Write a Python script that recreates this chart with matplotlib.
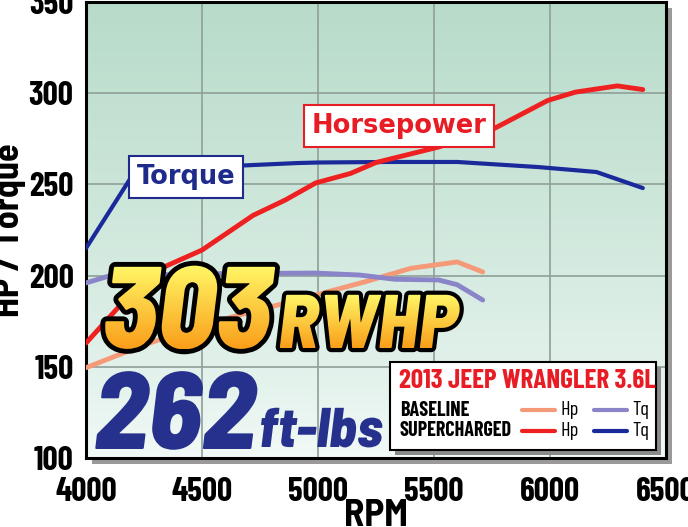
import numpy as np
import matplotlib.pyplot as plt
from matplotlib import font_manager
from matplotlib.textpath import TextPath
from matplotlib.patches import PathPatch, Rectangle

# dyno data
rpm_sc = [4000, 4270, 4500, 4720, 4860, 4990, 5140, 5250, 5520, 5750, 5990, 6110, 6290, 6400]
hp_sc = [163, 201, 214, 233, 241.5, 250.8, 256, 262, 270.5, 280, 296, 300.6, 304, 302]

rpm_tq_sc = [4000, 4200, 4500, 4700, 4910, 5000, 5300, 5600, 5950, 6200, 6400]
tq_sc = [215, 255, 259.5, 260.5, 261.7, 262, 262.3, 262.3, 259.5, 256.8, 248]

rpm_base = [4000, 4250, 4530, 4950, 5200, 5400, 5600, 5710]
hp_base = [149.5, 162, 174, 188, 196.5, 204, 207.5, 202]

rpm_tq_base = [4000, 4100, 4500, 4990, 5180, 5330, 5520, 5600, 5710]
tq_base = [196, 199.8, 201, 201.4, 200.3, 198, 197.6, 195, 186.6]

x_ticks = [4000, 4500, 5000, 5500, 6000, 6500]
y_ticks = [100, 150, 200, 250, 300, 350]

def pick(names):
    for n in names:
        try:
            font_manager.findfont(n, fallback_to_default=False)
            return n
        except Exception:
            pass
    return 'DejaVu Sans'

FONT = pick(['Barlow Condensed', 'Roboto Condensed', 'Liberation Sans Narrow', 'DejaVu Sans'])
FONT_SEMI = pick(['Barlow Semi Condensed', 'Roboto Condensed', 'DejaVu Sans'])
plt.rcParams['font.family'] = [FONT, 'DejaVu Sans']

W, H = 688, 527
fig = plt.figure(figsize=(W / 100, H / 100), dpi=100)
fig.patch.set_facecolor('white')

L, R, T, B = 86, 666, 2, 458
ax = fig.add_axes([L / W, 1 - B / H, (R - L) / W, (B - T) / H])

# shadow behind the plot frame
shadow = fig.add_axes([(L + 6) / W, 1 - (B + 6) / H, (R - L) / W, (B - T) / H], zorder=-1)
shadow.set_facecolor('#9a9a9a')
shadow.set_xticks([]); shadow.set_yticks([])
for s in shadow.spines.values():
    s.set_visible(False)

ax.set_xlim(4000, 6500)
ax.set_ylim(100, 350)

# green to pale background gradient
grad = np.linspace(1, 0, 256).reshape(-1, 1)
top = np.array([0.72, 0.86, 0.79])
bot = np.array([0.95, 0.98, 0.97])
img = bot + (top - bot) * grad[..., None] ** 0.8
ax.imshow(img, extent=[4000, 6500, 100, 350], aspect='auto', zorder=0)

ax.set_xticks(x_ticks)
ax.set_yticks(y_ticks)
ax.grid(color='#8f9f98', linewidth=1.2, zorder=1)
ax.tick_params(length=0, labelsize=24)
ax.tick_params(axis='x', pad=14)
ax.tick_params(axis='y', pad=9)
for lbl in ax.get_xticklabels() + ax.get_yticklabels():
    lbl.set_fontweight('bold')
for s in ax.spines.values():
    s.set_linewidth(2.2)
    s.set_color('black')
ax.set_xlabel('RPM', fontsize=27, fontweight='bold', family=[FONT_SEMI, 'DejaVu Sans'], labelpad=-6)
ax.set_ylabel('HP / Torque', fontsize=26, fontweight='bold', family=[FONT_SEMI, 'DejaVu Sans'])
ax.yaxis.set_label_coords(-0.103, 0.5)

ax.plot(rpm_base, hp_base, color='#f49a78', lw=3.5, zorder=3, solid_capstyle='round')
ax.plot(rpm_tq_base, tq_base, color='#8a84c8', lw=3.5, zorder=3, solid_capstyle='round')
ax.plot(rpm_tq_sc, tq_sc, color='#1a2a9a', lw=3, zorder=4, solid_capstyle='round')
ax.plot(rpm_sc, hp_sc, color='#ee2020', lw=3.5, zorder=4, solid_capstyle='round')

ax.text(5349, 282, 'Horsepower', color='#e81c24', fontsize=18.5, fontweight='bold',
        family='DejaVu Sans', zorder=6, ha='center', va='center',
        bbox=dict(boxstyle='square,pad=0.3', fc='white', ec='#e81c24', lw=1.5))
ax.text(4431, 254, 'Torque', color='#1e2a8c', fontsize=18.5, fontweight='bold',
        family='DejaVu Sans', zorder=6, ha='center', va='center',
        bbox=dict(boxstyle='square,pad=0.3', fc='white', ec='#1e2a8c', lw=1.5))

# overlay axes in pixel space for the legend box and the big callouts
ov = fig.add_axes([0, 0, 1, 1], zorder=10)
ov.set_xlim(0, W)
ov.set_ylim(0, H)
ov.axis('off')

def py(y):
    return H - y

ov.add_patch(Rectangle((395, py(455)), 266, 88, fc='#8a8a8a', ec='none'))
ov.add_patch(Rectangle((390, py(450)), 266, 88, fc='white', ec='black', lw=1.5))
ov.text(399, py(381), '2013 JEEP WRANGLER 3.6L', color='#e81c24', fontsize=19.5,
        fontweight='bold', va='center', ha='left')
ov.text(400, py(410), 'BASELINE', fontsize=14.5, fontweight='bold', va='center')
ov.text(400, py(431), 'SUPERCHARGED', fontsize=14.5, fontweight='bold', va='center')
for yy, chp, ctq in [(410, '#f49a78', '#8a84c8'), (431, '#ee2020', '#1a2a9a')]:
    ov.plot([522, 555], [py(yy), py(yy)], color=chp, lw=3, solid_capstyle='round')
    ov.text(560, py(yy), 'Hp', fontsize=14.5, va='center')
    ov.plot([594, 627], [py(yy), py(yy)], color=ctq, lw=3, solid_capstyle='round')
    ov.text(632, py(yy), 'Tq', fontsize=14.5, va='center')

fp_big = font_manager.FontProperties(family=FONT_SEMI, weight='heavy', style='italic')

def fancy_text(x, y, s, size, fill_top=None, fill_bot=None, color=None, edge=None, lw=0):
    tp = TextPath((x, py(y)), s, size=size, prop=fp_big)
    if edge is not None:
        ov.add_patch(PathPatch(tp, fc='none', ec=edge, lw=lw, joinstyle='round', zorder=11))
    if color is not None:
        ov.add_patch(PathPatch(tp, fc=color, ec='none', zorder=12))
    else:
        bb = tp.get_extents()
        g = np.linspace(0, 1, 128).reshape(-1, 1)
        c = fill_bot + (fill_top - fill_bot) * g[..., None]
        im = ov.imshow(c, extent=[bb.x0, bb.x1, bb.y0, bb.y1], origin='lower',
                       aspect='auto', zorder=12)
        clip = PathPatch(tp, fc='none', ec='none', transform=ov.transData)
        ov.add_patch(clip)
        im.set_clip_path(clip)
    return tp.get_extents()

yel = np.array([1.0, 0.97, 0.4])
ora = np.array([0.98, 0.62, 0.1])
bb = fancy_text(102, 348, '303', 116, fill_top=yel, fill_bot=ora, edge='black', lw=7)
fancy_text(bb.x1 + 3, 348, 'RWHP', 76, fill_top=yel, fill_bot=ora, edge='black', lw=6)

bb2 = fancy_text(94, 449, '262', 110, color='#26318e')
fancy_text(bb2.x1 + 1, 447, 'ft-lbs', 56, color='#26318e')

ov.set_xlim(0, W)
ov.set_ylim(0, H)

fig.savefig('out.png', dpi=100)
